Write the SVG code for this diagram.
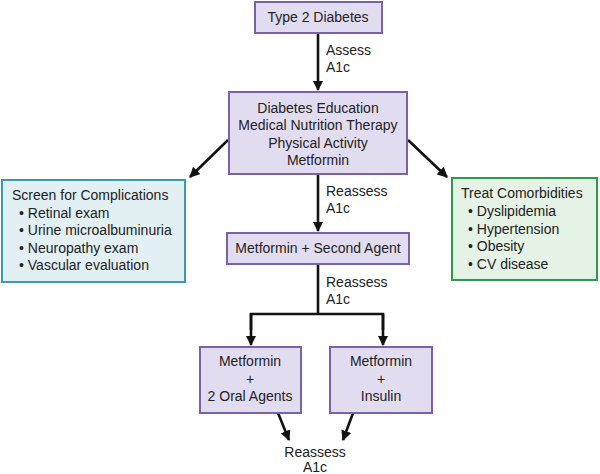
<svg xmlns="http://www.w3.org/2000/svg" width="600" height="474" viewBox="0 0 600 474">
<style>
text{font-family:"Liberation Sans",Arial,sans-serif;font-size:14px;fill:#222}
.c{text-anchor:middle}
.p{fill:#e2dcf0;stroke:#7b62a8;stroke-width:2}
.b{fill:#e2f0f3;stroke:#3a9bab;stroke-width:2}
.g{fill:#e5f2e6;stroke:#2e9a4c;stroke-width:2}
.l{fill:none;stroke:#111;stroke-width:2.6}
</style>
<defs>
<marker id="ah" viewBox="0 0 10 10" refX="9" refY="5" markerWidth="4" markerHeight="4" orient="auto" markerUnits="strokeWidth">
<path d="M0,0 L10,5 L0,10 z" fill="#111"/>
</marker>
</defs>
<g id="connectors">
<line class="l" x1="318" y1="33" x2="318" y2="90" marker-end="url(#ah)"/>
<line class="l" x1="228" y1="140" x2="190" y2="177" marker-end="url(#ah)"/>
<line class="l" x1="408" y1="140" x2="447" y2="177" marker-end="url(#ah)"/>
<line class="l" x1="318" y1="174" x2="318" y2="231" marker-end="url(#ah)"/>
<polyline class="l" points="318,264 318,314"/>
<polyline class="l" points="251,330 251,314 383,314 383,330"/>
<line class="l" x1="251" y1="314" x2="251" y2="345" marker-end="url(#ah)"/>
<line class="l" x1="383" y1="314" x2="383" y2="345" marker-end="url(#ah)"/>
<line class="l" x1="278" y1="413" x2="289" y2="440" marker-end="url(#ah)"/>
<line class="l" x1="353" y1="413" x2="343" y2="440" marker-end="url(#ah)"/>
<text x="326" y="55">Assess</text>
<text x="326" y="72">A1c</text>
<text x="326" y="196">Reassess</text>
<text x="326" y="213">A1c</text>
<text x="326" y="287">Reassess</text>
<text x="326" y="304">A1c</text>
<text class="c" x="315" y="457">Reassess</text>
<text class="c" x="315" y="472">A1c</text>
</g>
<g id="type2">
<rect class="p" x="255" y="2" width="127" height="31"/>
<text class="c" x="318" y="22">Type 2 Diabetes</text>
</g>
<g id="education">
<rect class="p" x="229" y="92" width="178" height="82"/>
<text class="c" x="318" y="113">Diabetes Education</text>
<text class="c" x="318" y="130">Medical Nutrition Therapy</text>
<text class="c" x="318" y="148">Physical Activity</text>
<text class="c" x="318" y="165">Metformin</text>
</g>
<g id="screen">
<rect class="b" x="2" y="180" width="183" height="102"/>
<text x="12" y="200">Screen for Complications</text>
<text x="19" y="218">• Retinal exam</text>
<text x="19" y="235">• Urine microalbuminuria</text>
<text x="19" y="253">• Neuropathy exam</text>
<text x="19" y="270">• Vascular evaluation</text>
</g>
<g id="treat">
<rect class="g" x="452" y="178" width="145" height="102"/>
<text x="461" y="198">Treat Comorbidities</text>
<text x="468" y="216">• Dyslipidemia</text>
<text x="468" y="234">• Hypertension</text>
<text x="468" y="251">• Obesity</text>
<text x="468" y="269">• CV disease</text>
</g>
<g id="second">
<rect class="p" x="227" y="233" width="182" height="31"/>
<text class="c" x="318" y="253">Metformin + Second Agent</text>
</g>
<g id="oral">
<rect class="p" x="200" y="347" width="101" height="66"/>
<text class="c" x="250" y="366">Metformin</text>
<text class="c" x="250" y="384">+</text>
<text class="c" x="250" y="401">2 Oral Agents</text>
</g>
<g id="insulin">
<rect class="p" x="330" y="347" width="102" height="66"/>
<text class="c" x="381" y="366">Metformin</text>
<text class="c" x="381" y="384">+</text>
<text class="c" x="381" y="401">Insulin</text>
</g>
</svg>
